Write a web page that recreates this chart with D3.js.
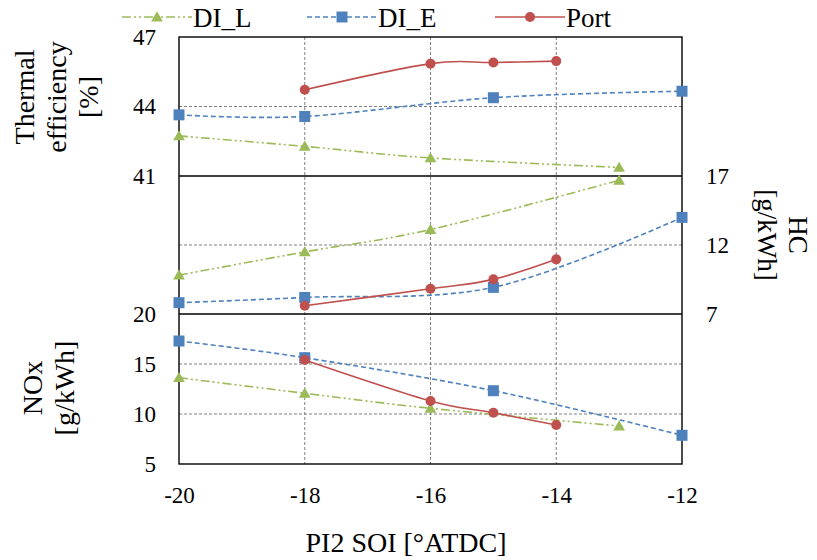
<!DOCTYPE html>
<html><head><meta charset="utf-8">
<script src="https://cdn.jsdelivr.net/npm/d3@7/dist/d3.min.js"></script>
<style>body{margin:0;background:#fff}svg{display:block}svg text{font-family:"Liberation Serif","DejaVu Serif",serif !important;fill:#000}</style>
</head><body><svg id="c" width="817" height="560"></svg>
<script>
// ---- data ----
const soiDI_L = [-20, -18, -16, -13];
const soiDI_E = [-20, -18, -15, -12];
const soiPort = [-18, -16, -15, -14];
const effDI_L = [42.73, 42.28, 41.78, 41.37];
const effDI_E = [43.64, 43.57, 44.38, 44.66];
const effPort = [44.72, 45.85, 45.9, 45.96];
const hcDI_L = [9.82, 11.5, 13.12, 16.69];
const hcDI_E = [7.82, 8.2, 8.93, 14.0];
const hcPort = [7.6, 8.83, 9.51, 10.96];
const noxDI_L = [13.63, 12.07, 10.57, 8.8];
const noxDI_E = [17.3, 15.63, 12.33, 7.87];
const noxPort = [15.4, 11.3, 10.13, 8.9];
const xTicks = [-20, -18, -16, -14, -12];
const effTicks = [41, 44, 47];
const hcTicks = [7, 12, 17];
const noxTicks = [5, 10, 15, 20];
const seriesNames = ["DI_L", "DI_E", "Port"];

const FONT = '"Liberation Serif","DejaVu Serif",serif';
const svg = d3.select("#c");
const X0 = 179, X1 = 682;
const x = d3.scaleLinear().domain([-20, -12]).range([X0, X1]);
const yEff = d3.scaleLinear().domain([41, 47]).range([176, 37]);
const yHC = d3.scaleLinear().domain([7, 17]).range([314, 176]);
const yNox = d3.scaleLinear().domain([5, 20]).range([464, 314]);

const styles = {
  DI_L: {color: "#9BBB59", dash: "9,3,2,3,2,3", marker: "tri"},
  DI_E: {color: "#4F81BD", dash: "5,3", marker: "sq"},
  Port: {color: "#C0504D", dash: null, marker: "circ"}
};
const FS = 23;

// grid lines
const grid = svg.append("g").attr("stroke", "#808080").attr("stroke-width", 1).attr("stroke-dasharray", "3,2");
[-18, -16, -14].forEach(v => grid.append("line").attr("x1", x(v)).attr("x2", x(v)).attr("y1", 37).attr("y2", 464));
grid.append("line").attr("x1", X0).attr("x2", X1).attr("y1", yEff(44)).attr("y2", yEff(44));
grid.append("line").attr("x1", X0).attr("x2", X1).attr("y1", yHC(12)).attr("y2", yHC(12));
[10, 15].forEach(v => grid.append("line").attr("x1", X0).attr("x2", X1).attr("y1", yNox(v)).attr("y2", yNox(v)));

// panel frames
const fr = svg.append("g").attr("fill", "none").attr("stroke", "#000").attr("stroke-width", 1.4);
fr.append("rect").attr("x", X0).attr("y", 37).attr("width", X1 - X0).attr("height", 464 - 37);
[176, 314].forEach(v => fr.append("line").attr("x1", X0).attr("x2", X1).attr("y1", v).attr("y2", v));

// series
function marker(g, type, cx, cy, color) {
  if (type === "tri") g.append("path").attr("d", d3.symbol(d3.symbolTriangle, 60)()).attr("transform", `translate(${cx},${cy + 1})`).attr("fill", color);
  else if (type === "sq") g.append("rect").attr("x", cx - 5.5).attr("y", cy - 5.5).attr("width", 11).attr("height", 11).attr("fill", color);
  else g.append("circle").attr("cx", cx).attr("cy", cy).attr("r", 5).attr("fill", color);
}
function drawSeries(xs, ys, yScale, name) {
  const st = styles[name];
  const pts = xs.map((v, i) => [x(v), yScale(ys[i])]);
  const line = d3.line().curve(d3.curveCatmullRom.alpha(0));
  const g = svg.append("g");
  g.append("path").attr("d", line(pts)).attr("fill", "none").attr("stroke", st.color).attr("stroke-width", 1.6)
    .attr("stroke-dasharray", st.dash);
  pts.forEach(p => marker(g, st.marker, p[0], p[1], st.color));
}
drawSeries(soiDI_L, effDI_L, yEff, "DI_L");
drawSeries(soiDI_E, effDI_E, yEff, "DI_E");
drawSeries(soiPort, effPort, yEff, "Port");
drawSeries(soiDI_L, hcDI_L, yHC, "DI_L");
drawSeries(soiDI_E, hcDI_E, yHC, "DI_E");
drawSeries(soiPort, hcPort, yHC, "Port");
drawSeries(soiDI_L, noxDI_L, yNox, "DI_L");
drawSeries(soiDI_E, noxDI_E, yNox, "DI_E");
drawSeries(soiPort, noxPort, yNox, "Port");

// axes labels
function axisText(g) {
  g.attr("font-family", FONT).attr("font-size", FS);
  g.select(".domain").remove(); g.selectAll(".tick line").remove();
  g.selectAll("text").attr("font-size", FS).attr("fill", "#000");
}
svg.append("g").attr("transform", "translate(156,0)").call(d3.axisLeft(yEff).tickValues(effTicks).tickFormat(d3.format("d")).tickSize(0).tickPadding(0)).call(axisText);
svg.append("g").attr("transform", "translate(156,0)").call(d3.axisLeft(yNox).tickValues(noxTicks).tickFormat(d3.format("d")).tickSize(0).tickPadding(0)).call(axisText);
svg.append("g").attr("transform", "translate(706,0)").call(d3.axisRight(yHC).tickValues(hcTicks).tickFormat(d3.format("d")).tickSize(0).tickPadding(0)).call(axisText);
svg.append("g").attr("transform", "translate(0,495)").call(d3.axisBottom(x).tickValues(xTicks).tickFormat(d => d).tickSize(0).tickPadding(0)).call(axisText)
  .selectAll("text").attr("dy", "0.35em");

// titles
function multiline(lines, cx, cy, rot, lh, fs) {
  const t = svg.append("text").attr("transform", `translate(${cx},${cy}) rotate(${rot})`).attr("text-anchor", "middle")
    .attr("font-family", FONT).attr("font-size", fs);
  const n = lines.length;
  lines.forEach((l, i) => t.append("tspan").attr("x", 0).attr("y", (i - (n - 1) / 2) * lh).attr("dy", "0.35em").text(l));
}
multiline(["Thermal", "efficiency", "[%]"], 56, 97, -90, 32, 28);
multiline(["NOx", "[g/kWh]"], 48, 388, -90, 32, 28);
multiline(["HC", "[g/kWh]"], 783, 235, 90, 31, 27);
svg.append("text").attr("x", 406).attr("y", 542).attr("dy", "0.35em").attr("text-anchor", "middle")
  .attr("font-family", FONT).attr("font-size", 28).text("PI2 SOI [°ATDC]");

// legend
const legX = [122, 307, 495];
seriesNames.forEach((n, i) => {
  const st = styles[n];
  const g = svg.append("g");
  g.append("line").attr("x1", legX[i]).attr("x2", legX[i] + 70).attr("y1", 17).attr("y2", 17).attr("stroke", st.color).attr("stroke-width", 1.6).attr("stroke-dasharray", st.dash);
  marker(g, st.marker, legX[i] + 35, 17, st.color);
  g.append("text").attr("x", legX[i] + 71).attr("y", 18).attr("dy", "0.35em").attr("font-family", FONT).attr("font-size", 27).text(n);
});
</script></body></html>
